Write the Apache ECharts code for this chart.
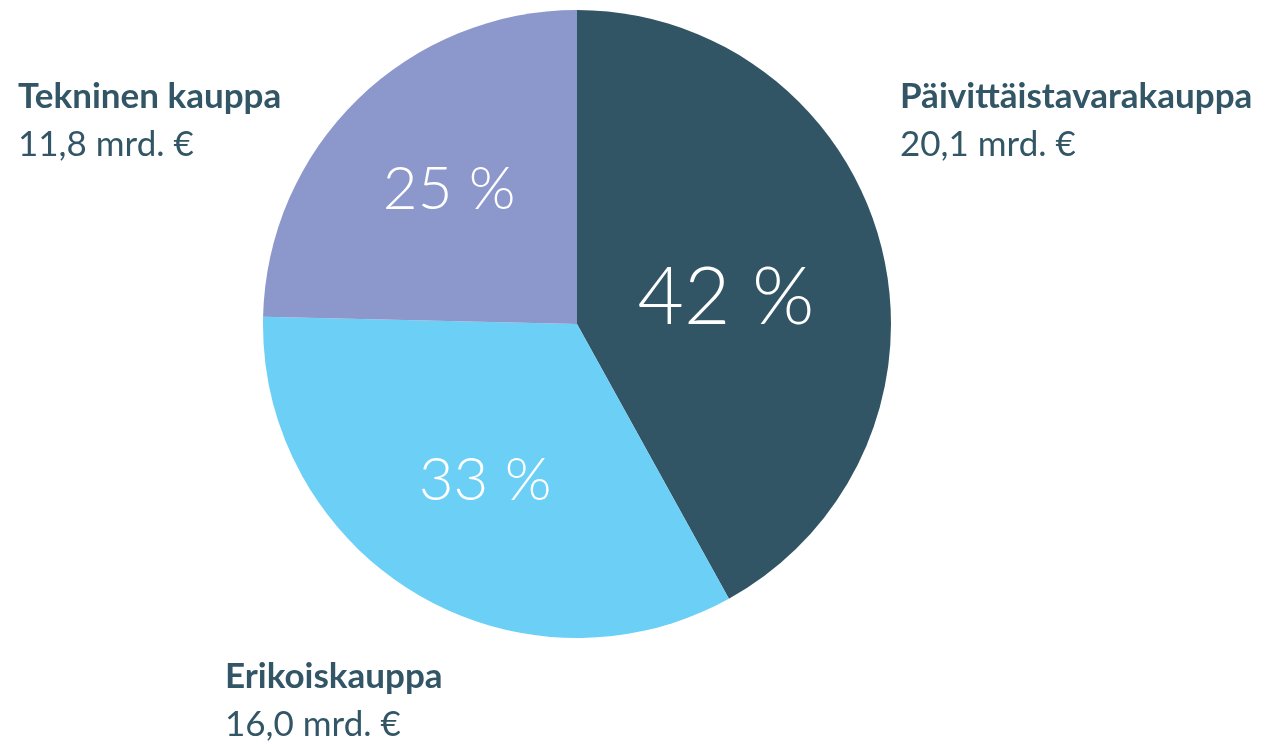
<!DOCTYPE html>
<html>
<head>
<meta charset="utf-8">
<script src="https://cdn.jsdelivr.net/npm/echarts@6/dist/echarts.min.js"></script>
<style>
  html, body { margin: 0; padding: 0; background: #fff; }
  #chart { width: 1265px; height: 744px; }
</style>
</head>
<body>
<div id="chart"></div>
<script>
// kaupan alat, myynti mrd. €
const categories = ['Päivittäistavarakauppa', 'Erikoiskauppa', 'Tekninen kauppa']
const values = [20.1, 16.0, 11.8]
const valueLabels = ['20,1 mrd. €', '16,0 mrd. €', '11,8 mrd. €']

const colors = ['#325566', '#6ccff6', '#8c97cc']
const textColor = '#325666'
const pctSize = [80, 60, 60]
const pctOffset = [[-6, 14], [-9, 20], [-16, -20]]
// ulkoisten nimien paikat (vasen reuna, ylärivin perusviiva)
const namePos = [[900, 107], [225, 687], [18, 107]]

const total = values.reduce((a, b) => a + b, 0)

const chart = echarts.init(document.getElementById('chart'))

const graphics = []
categories.forEach((name, i) => {
  graphics.push({
    type: 'text',
    left: namePos[i][0],
    top: namePos[i][1] - 28,
    style: {
      text: name,
      font: 'bold 35px Lato',
      fill: textColor
    }
  })
  graphics.push({
    type: 'text',
    left: namePos[i][0],
    top: namePos[i][1] + 20,
    style: {
      text: valueLabels[i],
      font: '35px Lato',
      fill: textColor
    }
  })
})

chart.setOption({
  animation: false,
  graphic: graphics,
  series: [{
    type: 'pie',
    center: [577, 324],
    radius: 314,
    startAngle: 90,
    clockwise: true,
    silent: true,
    labelLine: { show: false },
    data: categories.map((name, i) => ({
      name: name,
      value: values[i],
      itemStyle: { color: colors[i] },
      label: {
        show: true,
        position: 'inside',
        fontFamily: 'Lato',
        fontWeight: 300,
        fontSize: pctSize[i],
        color: '#fff',
        offset: pctOffset[i],
        formatter: () => Math.round(values[i] / total * 100) + ' %'
      }
    }))
  }]
})
</script>
</body>
</html>
